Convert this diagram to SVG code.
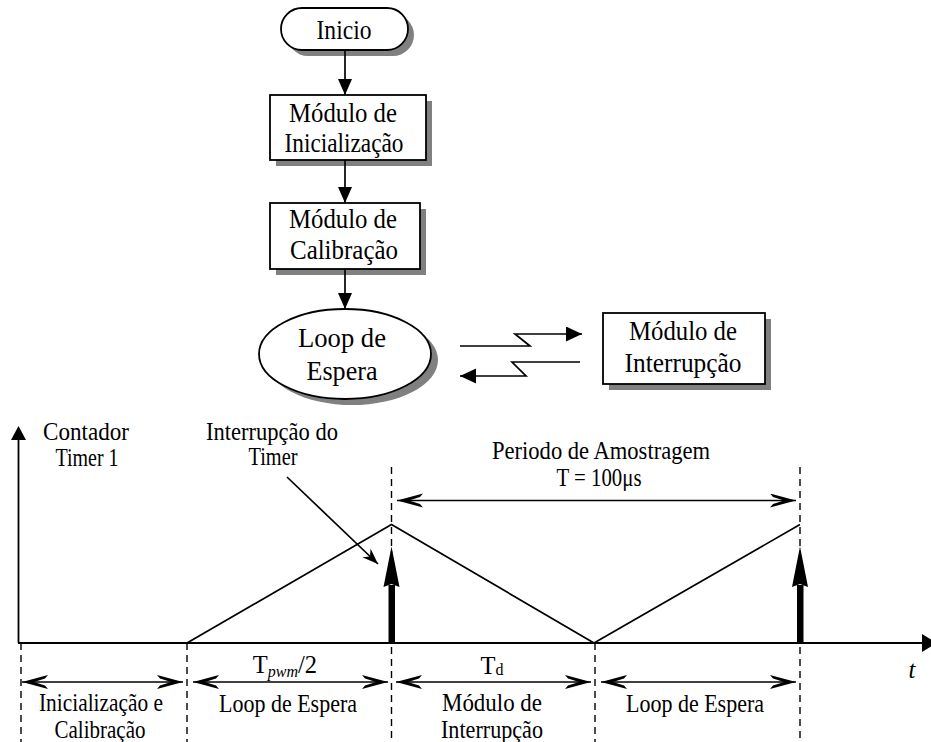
<svg xmlns="http://www.w3.org/2000/svg" width="931" height="742" viewBox="0 0 931 742">
  <style>
    text { font-family: "Liberation Serif", "Times New Roman", serif; fill: #000; }
    .big { font-size: 28px; text-anchor: middle; }
    .small { font-size: 24.5px; text-anchor: middle; }
    .shape { fill: #fff; stroke: #000; stroke-width: 1.8; }
    .shadow { fill: #808080; stroke: none; }
    .line { fill: none; stroke: #000; stroke-width: 1.7; }
    .dash { fill: none; stroke: #000; stroke-width: 1.4; stroke-dasharray: 7 5; }
    .axis { fill: none; stroke: #000; stroke-width: 1.8; }
  </style>
  <defs>
    <marker id="tri" markerUnits="userSpaceOnUse" markerWidth="20" markerHeight="16" refX="16" refY="7" orient="auto">
      <path d="M0,0 L16,7 L0,14 Z" fill="#000"/>
    </marker>
    <marker id="bolt" markerUnits="userSpaceOnUse" markerWidth="20" markerHeight="16" refX="16" refY="7.5" orient="auto">
      <path d="M0,0 L16,7.5 L0,15 Z" fill="#000"/>
    </marker>
    <marker id="barb" markerUnits="userSpaceOnUse" markerWidth="30" markerHeight="16" refX="27" refY="7" orient="auto-start-reverse">
      <path d="M27,7 L1,0 L4,3.5 L15,7 L4,10.5 L1,14 Z" fill="#000"/>
    </marker>
    <marker id="ptr" markerUnits="userSpaceOnUse" markerWidth="20" markerHeight="14" refX="16" refY="6" orient="auto">
      <path d="M16,6 L0,0 L5,6 L0,12 Z" fill="#000"/>
    </marker>
  </defs>

  <!-- flowchart nodes -->
  <g id="inicio">
    <rect class="shadow" x="287" y="14" width="127" height="42" rx="21"/>
    <rect class="shape" x="281" y="8" width="127" height="42" rx="21"/>
    <text class="big" x="344" y="39" textLength="55" lengthAdjust="spacingAndGlyphs">Inicio</text>
  </g>
  <g id="modulo-inicializacao">
    <rect class="shadow" x="276" y="101" width="156" height="65"/>
    <rect class="shape" x="270" y="95" width="156" height="65"/>
    <text class="big" x="343" y="122" textLength="108" lengthAdjust="spacingAndGlyphs">Módulo de</text>
    <text class="big" x="344" y="152" textLength="119" lengthAdjust="spacingAndGlyphs">Inicialização</text>
  </g>
  <g id="modulo-calibracao">
    <rect class="shadow" x="276" y="209" width="150" height="66"/>
    <rect class="shape" x="270" y="203" width="150" height="66"/>
    <text class="big" x="343" y="228" textLength="108" lengthAdjust="spacingAndGlyphs">Módulo de</text>
    <text class="big" x="344" y="259" textLength="108" lengthAdjust="spacingAndGlyphs">Calibração</text>
  </g>
  <g id="loop-espera">
    <ellipse class="shadow" cx="352" cy="360" rx="86" ry="45"/>
    <ellipse class="shape" cx="345" cy="354" rx="86" ry="45"/>
    <text class="big" x="342" y="347" textLength="88" lengthAdjust="spacingAndGlyphs">Loop de</text>
    <text class="big" x="342" y="380" textLength="71" lengthAdjust="spacingAndGlyphs">Espera</text>
  </g>
  <g id="modulo-interrupcao">
    <rect class="shadow" x="609" y="319" width="162" height="71"/>
    <rect class="shape" x="603" y="313" width="162" height="71"/>
    <text class="big" x="683" y="340" textLength="108" lengthAdjust="spacingAndGlyphs">Módulo de</text>
    <text class="big" x="683" y="372" textLength="117" lengthAdjust="spacingAndGlyphs">Interrupção</text>
  </g>

  <!-- flowchart connectors -->
  <g id="connectors">
    <line class="line" x1="345" y1="50" x2="345" y2="95" marker-end="url(#tri)"/>
    <line class="line" x1="345" y1="160" x2="345" y2="203" marker-end="url(#tri)"/>
    <line class="line" x1="345" y1="269" x2="345" y2="309" marker-end="url(#tri)"/>
    <polyline class="line" points="460,346 530,346 515,334 582,334" marker-end="url(#bolt)"/>
    <polyline class="line" points="580,362 512,362 526,376 460,376" marker-end="url(#bolt)"/>
  </g>

  <!-- timing chart -->
  <g id="timing-axes">
    <line class="axis" x1="18.5" y1="643" x2="18.5" y2="438"/>
    <path d="M18.5,426 L11,440 L26,440 Z" fill="#000"/>
    <line class="axis" x1="18" y1="643" x2="924" y2="643"/>
    <path d="M937,643 L922,634 L922,652 Z" fill="#000"/>
  </g>

  <g id="timing-guides">
    <line class="dash" x1="391.5" y1="467" x2="391.5" y2="742"/>
    <line class="dash" x1="800" y1="467" x2="800" y2="742"/>
    <line class="dash" x1="21" y1="643" x2="21" y2="742"/>
    <line class="dash" x1="187" y1="643" x2="187" y2="742"/>
    <line class="dash" x1="595" y1="643" x2="595" y2="742"/>
  </g>

  <g id="counter-wave">
    <polyline class="line" points="187,643 391.5,524.5 594,643 800,524.5"/>
  </g>

  <g id="interrupt-pulses">
    <rect x="388.5" y="585" width="6.5" height="58" fill="#000"/>
    <path d="M391.5,546.5 L383.5,587 L391.5,584 L399.5,587 Z" fill="#000"/>
    <rect x="797" y="585" width="6.5" height="58" fill="#000"/>
    <path d="M800,546.5 L792,587 L800,584 L808,587 Z" fill="#000"/>
  </g>

  <g id="timing-arrows">
    <line class="line" x1="287" y1="477" x2="378" y2="564" marker-end="url(#ptr)"/>
    <line class="line" x1="397" y1="500.5" x2="796" y2="500.5" marker-start="url(#barb)" marker-end="url(#barb)"/>
    <line class="line" x1="22" y1="682" x2="183" y2="682" marker-start="url(#barb)" marker-end="url(#barb)"/>
    <line class="line" x1="193" y1="682" x2="388" y2="682" marker-start="url(#barb)" marker-end="url(#barb)"/>
    <line class="line" x1="396" y1="682" x2="591" y2="682" marker-start="url(#barb)" marker-end="url(#barb)"/>
    <line class="line" x1="601" y1="682" x2="796" y2="682" marker-start="url(#barb)" marker-end="url(#barb)"/>
  </g>

  <g id="timing-labels">
    <text class="small" x="86" y="440" textLength="86" lengthAdjust="spacingAndGlyphs">Contador</text>
    <text class="small" x="87" y="466" textLength="63" lengthAdjust="spacingAndGlyphs">Timer 1</text>
    <text class="small" x="272" y="440" textLength="132" lengthAdjust="spacingAndGlyphs">Interrupção do</text>
    <text class="small" x="273" y="465" textLength="49" lengthAdjust="spacingAndGlyphs">Timer</text>
    <text class="small" x="601" y="459" textLength="218" lengthAdjust="spacingAndGlyphs">Periodo de Amostragem</text>
    <text class="small" x="599" y="486" textLength="85" lengthAdjust="spacingAndGlyphs">T = 100μs</text>
    <text class="small" x="285" y="673">T<tspan font-size="16" font-style="italic" dy="4">pwm</tspan><tspan dy="-4">/2</tspan></text>
    <text class="small" x="492" y="674">T<tspan font-size="16" dy="1">d</tspan></text>
    <text class="small" x="912" y="678" font-style="italic">t</text>
    <text class="small" x="101" y="711" textLength="124" lengthAdjust="spacingAndGlyphs">Inicialização e</text>
    <text class="small" x="100" y="738" textLength="91" lengthAdjust="spacingAndGlyphs">Calibração</text>
    <text class="small" x="288" y="712" textLength="138" lengthAdjust="spacingAndGlyphs">Loop de Espera</text>
    <text class="small" x="492" y="711" textLength="100" lengthAdjust="spacingAndGlyphs">Módulo de</text>
    <text class="small" x="492" y="738" textLength="102" lengthAdjust="spacingAndGlyphs">Interrupção</text>
    <text class="small" x="695" y="712" textLength="138" lengthAdjust="spacingAndGlyphs">Loop de Espera</text>
  </g>
</svg>
